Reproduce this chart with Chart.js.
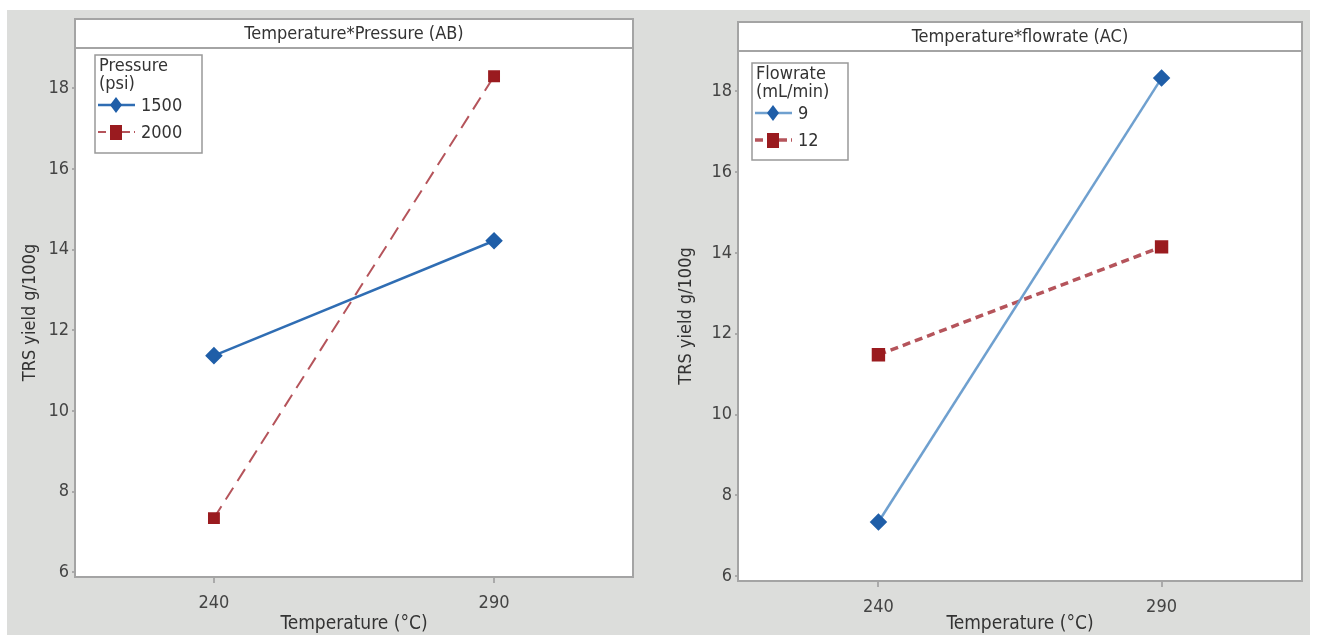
<!DOCTYPE html>
<html>
<head>
<meta charset="utf-8">
<script src="https://cdn.jsdelivr.net/npm/chart.js@4/dist/chart.umd.min.js"></script>
<style>
  body { margin: 0; background: #fff; width: 1318px; height: 635px; overflow: hidden; position: relative; }
  #bg { position: absolute; left: 7px; top: 10px; width: 1303px; height: 625px; background: #dcdddb; }
  .wrap { position: absolute; top: 0; height: 635px; }
  #w1 { left: 0; width: 660px; }
  #w2 { left: 660px; width: 658px; }
</style>
</head>
<body>
<div id="bg"></div>
<div class="wrap" id="w1"><canvas id="chartAB"></canvas></div>
<div class="wrap" id="w2"><canvas id="chartAC"></canvas></div>
<script>
const FONT = "'DejaVu Sans Condensed', Roboto, sans-serif";

const temperatures = [240, 290];
const yTicks = [6, 8, 10, 12, 14, 16, 18];

const pressureLevels = ["1500", "2000"];
const yield1500psi = [11.37, 14.22];
const yield2000psi = [7.34, 18.3];

const flowrateLevels = ["9", "12"];
const yield9mL = [7.34, 18.33];
const yield12mL = [11.48, 14.15];

function pts(vals) {
    return temperatures.map((t, i) => ({ x: t, y: vals[i] }));
}

// frame, title strip and inside legend
const panelDeco = {
    id: "panelDeco",
    beforeDraw(chart) {
        const a = chart.chartArea;
        chart.ctx.save();
        chart.ctx.fillStyle = "#fff";
        chart.ctx.fillRect(a.left, a.top, a.right - a.left, a.bottom - a.top);
        chart.ctx.restore();
    },
    afterDraw(chart, args, opts) {
        const ctx = chart.ctx;
        const a = chart.chartArea;
        ctx.save();
        // title strip
        ctx.fillStyle = "#fff";
        ctx.fillRect(a.left, a.top - opts.stripH, a.right - a.left, opts.stripH);
        ctx.strokeStyle = "#a4a4a4";
        ctx.lineWidth = 2;
        ctx.strokeRect(a.left, a.top - opts.stripH, a.right - a.left, opts.stripH);
        ctx.strokeRect(a.left, a.top, a.right - a.left, a.bottom - a.top);
        ctx.fillStyle = "#333";
        ctx.font = "18px " + FONT;
        ctx.textAlign = "center";
        ctx.textBaseline = "middle";
        ctx.fillText(opts.title, (a.left + a.right) / 2, a.top - opts.stripH / 2 + 1);

        // legend box
        const lx = a.left + opts.lx, ly = a.top + opts.ly;
        ctx.fillStyle = "#fff";
        ctx.fillRect(lx, ly, opts.lw, opts.lh);
        ctx.strokeStyle = "#999";
        ctx.lineWidth = 1.5;
        ctx.strokeRect(lx, ly, opts.lw, opts.lh);
        ctx.fillStyle = "#333";
        ctx.font = "18px " + FONT;
        ctx.textAlign = "left";
        ctx.fillText(opts.head[0], lx + 4, ly + 11);
        ctx.fillText(opts.head[1], lx + 4, ly + 29);
        chart.data.datasets.forEach((ds, i) => {
            const y = ly + 50 + i * 27;
            ctx.strokeStyle = ds.borderColor;
            ctx.lineWidth = ds.borderWidth;
            ctx.setLineDash(ds.borderDash ? [8, 4] : []);
            ctx.beginPath();
            ctx.moveTo(lx + 3, y);
            ctx.lineTo(lx + 40, y);
            ctx.stroke();
            ctx.setLineDash([]);
            ctx.fillStyle = ds.pointBackgroundColor;
            ctx.beginPath();
            if (ds.pointStyle === "rectRot") {
                ctx.moveTo(lx + 21, y - 8);
                ctx.lineTo(lx + 27, y);
                ctx.lineTo(lx + 21, y + 8);
                ctx.lineTo(lx + 15, y);
                ctx.closePath();
            } else {
                ctx.rect(lx + 15, y - 7, 12, 15);
            }
            ctx.fill();
            ctx.fillStyle = "#333";
            ctx.fillText(ds.label, lx + 46, y + 1);
        });
        ctx.restore();
    }
};

function makeChart(id, sets, deco, dims) {
    return new Chart(document.getElementById(id), {
        type: "line",
        data: { datasets: sets },
        options: {
            responsive: true,
            maintainAspectRatio: false,
            animation: false,
            layout: { padding: { top: dims.top, right: dims.right, left: 0, bottom: 0 } },
            plugins: { legend: { display: false }, tooltip: { enabled: false }, panelDeco: deco },
            scales: {
                x: {
                    type: "linear",
                    min: 215.2,
                    max: 314.8,
                    afterBuildTicks: s => { s.ticks = temperatures.map(v => ({ value: v })); },
                    afterFit: s => { s.height = dims.xh; },
                    grid: { drawOnChartArea: false, tickLength: 6, color: "#aaa", lineWidth: 2 },
                    border: { display: false },
                    ticks: { color: "#444", font: { family: FONT, size: 18 }, padding: 10 },
                    title: { display: true, text: "Temperature (°C)", color: "#333", font: { family: FONT, size: 19 }, padding: { top: 0, bottom: 0 } }
                },
                y: {
                    min: 5.88,
                    max: 19,
                    afterBuildTicks: s => { s.ticks = yTicks.map(v => ({ value: v })); },
                    afterFit: s => { s.width = dims.yw; },
                    grid: { drawOnChartArea: false, tickLength: 3, color: "#aaa", lineWidth: 2 },
                    border: { display: false },
                    ticks: { color: "#444", font: { family: FONT, size: 18 }, padding: 3 },
                    title: { display: true, text: "TRS yield g/100g", color: "#333", font: { family: FONT, size: 18 }, padding: { top: dims.tpad, bottom: 0 } }
                }
            }
        },
        plugins: [panelDeco]
    });
}

makeChart("chartAB", [
    { label: pressureLevels[0], data: pts(yield1500psi), borderColor: "#2f6db3", borderWidth: 2.5,
      pointStyle: "rectRot", pointRadius: 7, pointBackgroundColor: "#1f5ea8", pointBorderColor: "#1f5ea8" },
    { label: pressureLevels[1], data: pts(yield2000psi), borderColor: "#b5545b", borderWidth: 2, borderDash: [14, 8],
      pointStyle: "rect", pointRadius: 7, pointBackgroundColor: "#9a1b1f", pointBorderColor: "#9a1b1f" }
], { title: "Temperature*Pressure (AB)", stripH: 29, head: ["Pressure", "(psi)"], lx: 20, ly: 7, lw: 107, lh: 98 },
   { top: 48, right: 27, xh: 58, yw: 75, tpad: 20 });

makeChart("chartAC", [
    { label: flowrateLevels[0], data: pts(yield9mL), borderColor: "#6fa0cf", borderWidth: 2.5,
      pointStyle: "rectRot", pointRadius: 7, pointBackgroundColor: "#1f5ea8", pointBorderColor: "#1f5ea8" },
    { label: flowrateLevels[1], data: pts(yield12mL), borderColor: "#b5545b", borderWidth: 3.5, borderDash: [8, 5],
      pointStyle: "rect", pointRadius: 7, pointBackgroundColor: "#9a1b1f", pointBorderColor: "#9a1b1f" }
], { title: "Temperature*flowrate (AC)", stripH: 29, head: ["Flowrate", "(mL/min)"], lx: 14, ly: 12, lw: 96, lh: 97 },
   { top: 51, right: 16, xh: 54, yw: 78, tpad: 16 });
</script>
</body>
</html>
